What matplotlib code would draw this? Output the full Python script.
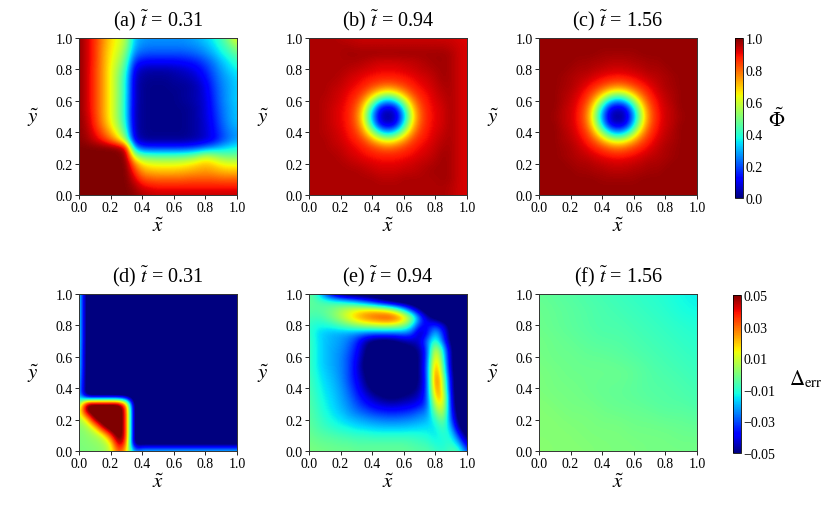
import numpy as np
import matplotlib
matplotlib.use('Agg')
import matplotlib.pyplot as plt

plt.rcParams['font.family'] = 'serif'
plt.rcParams['font.serif'] = ['Liberation Serif', 'DejaVu Serif']
plt.rcParams['mathtext.fontset'] = 'stix'

# ---------------- data ----------------
panel_letters = ['a', 'b', 'c', 'd', 'e', 'f']
panel_times = ['0.31', '0.94', '1.56', '0.31', '0.94', '1.56']
axis_ticks = [0.0, 0.2, 0.4, 0.6, 0.8, 1.0]
phi_ticks = [0.0, 0.2, 0.4, 0.6, 0.8, 1.0]
err_ticks = [-0.05, -0.03, -0.01, 0.01, 0.03, 0.05]

# Phi fields, percent, rows from y=1.0 (top) to y=0.0, columns x=0..1 step 0.05
phi_a = [
    [99, 93, 86, 77, 68, 63, 55, 32, 28, 27, 27, 27, 27, 27, 28, 30, 33, 37, 43, 52, 64],
    [99, 93, 86, 76, 67, 62, 53, 30, 26, 25, 25, 25, 25, 25, 26, 27, 30, 34, 40, 46, 55],
    [99, 93, 86, 75, 66, 60, 48, 25, 21, 20, 20, 20, 20, 20, 21, 23, 26, 30, 36, 41, 47],
    [99, 93, 86, 75, 65, 57, 44, 17, 13, 12, 12, 12, 12, 13, 14, 16, 20, 25, 31, 36, 41],
    [99, 93, 85, 75, 64, 54, 40, 10, 5, 4, 4, 4, 5, 6, 8, 11, 16, 22, 28, 33, 37],
    [99, 93, 85, 75, 64, 52, 37, 7, 3, 2, 2, 2, 3, 4, 5, 8, 13, 20, 26, 30, 34],
    [99, 93, 85, 75, 64, 52, 36, 6, 2, 1, 1, 1, 2, 2, 3, 5, 10, 18, 25, 29, 33],
    [99, 93, 85, 75, 64, 52, 36, 6, 2, 1, 1, 1, 1, 2, 3, 5, 9, 17, 24, 29, 33],
    [99, 93, 85, 75, 64, 52, 35, 6, 2, 1, 1, 1, 1, 2, 3, 5, 8, 16, 24, 29, 33],
    [99, 93, 85, 75, 64, 52, 35, 5, 2, 1, 1, 1, 1, 1, 2, 4, 8, 15, 23, 28, 32],
    [99, 94, 86, 75, 64, 52, 35, 5, 2, 1, 1, 1, 1, 1, 2, 4, 8, 14, 22, 28, 32],
    [99, 95, 87, 77, 66, 54, 37, 5, 2, 1, 1, 1, 1, 1, 2, 4, 7, 13, 21, 27, 31],
    [99, 96, 90, 82, 72, 60, 42, 6, 2, 1, 1, 1, 1, 1, 2, 4, 7, 12, 19, 25, 28],
    [99, 97, 93, 88, 80, 70, 52, 9, 3, 2, 2, 2, 2, 2, 3, 4, 7, 11, 18, 24, 28],
    [100, 100, 100, 100, 100, 99, 92, 30, 18, 17, 17, 17, 17, 17, 18, 20, 24, 28, 32, 35, 38],
    [100, 100, 100, 100, 100, 100, 98, 58, 48, 46, 45, 45, 45, 46, 48, 52, 58, 55, 50, 48, 48],
    [100, 100, 100, 100, 100, 100, 100, 78, 66, 63, 62, 62, 62, 63, 65, 68, 70, 68, 64, 62, 62],
    [100, 100, 100, 100, 100, 100, 100, 87, 75, 72, 71, 71, 71, 72, 73, 74, 75, 74, 72, 71, 71],
    [100, 100, 100, 100, 100, 100, 100, 93, 84, 82, 81, 81, 81, 81, 82, 82, 82, 82, 81, 81, 81],
    [100, 100, 100, 100, 100, 100, 100, 97, 92, 90, 89, 89, 89, 89, 89, 89, 89, 89, 89, 89, 89],
    [100, 100, 100, 100, 100, 100, 100, 99, 96, 95, 94, 94, 94, 94, 94, 94, 94, 94, 94, 94, 94],
]

phi_b = [
    [96, 96, 96, 96, 95, 94, 94, 93, 93, 93, 93, 93, 93, 93, 93, 93, 93, 93, 93, 92, 91],
    [96, 96, 96, 96, 96, 96, 95, 95, 95, 95, 95, 95, 95, 95, 95, 95, 95, 95, 94, 93, 92],
    [96, 96, 96, 96, 96, 97, 97, 97, 97, 97, 97, 97, 97, 97, 97, 97, 97, 97, 96, 93, 92],
    [96, 96, 96, 96, 96, 96, 96, 95, 94, 93, 93, 93, 94, 94, 95, 96, 97, 97, 96, 93, 92],
    [96, 96, 96, 96, 96, 95, 94, 93, 92, 91, 91, 91, 92, 93, 94, 95, 96, 97, 96, 93, 92],
    [96, 96, 96, 96, 95, 93, 92, 90, 89, 88, 88, 88, 89, 90, 92, 93, 95, 97, 96, 93, 92],
    [96, 96, 96, 95, 94, 92, 90, 88, 85, 82, 80, 82, 85, 88, 90, 92, 94, 96, 96, 93, 92],
    [96, 96, 96, 94, 93, 90, 88, 83, 74, 65, 61, 65, 74, 83, 88, 90, 93, 95, 96, 93, 92],
    [96, 96, 95, 94, 92, 89, 85, 74, 56, 37, 28, 37, 56, 74, 85, 89, 92, 94, 96, 93, 92],
    [96, 96, 95, 93, 91, 88, 82, 65, 37, 10, 6, 10, 37, 65, 82, 88, 91, 93, 96, 93, 92],
    [96, 96, 95, 93, 91, 88, 80, 61, 28, 6, 2, 6, 28, 61, 80, 88, 91, 93, 96, 93, 92],
    [96, 96, 95, 93, 91, 88, 82, 65, 37, 10, 6, 10, 37, 65, 82, 88, 91, 93, 96, 93, 92],
    [96, 96, 95, 94, 92, 89, 85, 74, 56, 37, 28, 37, 56, 74, 85, 89, 92, 94, 96, 93, 92],
    [96, 96, 96, 94, 93, 90, 88, 83, 74, 65, 61, 65, 74, 83, 88, 90, 93, 95, 96, 93, 92],
    [96, 96, 96, 95, 94, 92, 90, 88, 85, 82, 80, 82, 85, 88, 90, 92, 94, 96, 96, 93, 92],
    [96, 96, 96, 96, 95, 93, 92, 90, 89, 88, 88, 88, 89, 90, 92, 93, 95, 97, 96, 93, 92],
    [96, 96, 96, 96, 96, 95, 94, 93, 92, 91, 91, 91, 92, 93, 94, 95, 96, 97, 96, 93, 92],
    [96, 96, 96, 96, 96, 96, 96, 95, 94, 93, 93, 93, 94, 94, 95, 96, 97, 97, 96, 93, 92],
    [96, 96, 96, 96, 96, 96, 96, 96, 96, 95, 95, 95, 96, 96, 96, 96, 96, 97, 96, 93, 92],
    [96, 96, 96, 96, 96, 96, 96, 96, 96, 96, 96, 96, 96, 96, 96, 96, 96, 96, 95, 93, 92],
    [96, 96, 96, 96, 96, 96, 96, 96, 96, 96, 96, 96, 96, 96, 96, 96, 96, 96, 95, 93, 92],
]

phi_c = [
    [98, 98, 98, 98, 98, 98, 98, 98, 98, 98, 98, 98, 98, 98, 98, 98, 98, 98, 98, 98, 98],
    [98, 98, 98, 98, 98, 98, 98, 98, 98, 98, 98, 98, 98, 98, 98, 98, 98, 98, 98, 98, 98],
    [98, 98, 98, 98, 98, 98, 98, 98, 97, 97, 97, 97, 97, 98, 98, 98, 98, 98, 98, 98, 98],
    [98, 98, 98, 98, 98, 97, 97, 96, 96, 95, 95, 95, 96, 96, 97, 97, 98, 98, 98, 98, 98],
    [98, 98, 98, 98, 97, 96, 96, 95, 94, 93, 93, 93, 94, 95, 96, 96, 97, 98, 98, 98, 98],
    [98, 98, 98, 97, 96, 95, 94, 92, 90, 89, 88, 89, 90, 92, 94, 95, 96, 97, 98, 98, 98],
    [98, 98, 98, 97, 96, 94, 91, 88, 85, 81, 79, 81, 85, 88, 91, 94, 96, 97, 98, 98, 98],
    [98, 98, 98, 96, 95, 92, 88, 82, 72, 62, 58, 62, 72, 82, 88, 92, 95, 96, 98, 98, 98],
    [98, 98, 98, 96, 94, 90, 85, 72, 53, 34, 26, 34, 53, 72, 85, 90, 94, 96, 98, 98, 98],
    [98, 98, 98, 95, 93, 89, 81, 62, 34, 9, 5, 9, 34, 62, 81, 89, 93, 95, 98, 98, 98],
    [98, 98, 97, 95, 93, 88, 79, 58, 26, 5, 2, 5, 26, 58, 79, 88, 93, 95, 97, 98, 98],
    [98, 98, 98, 95, 93, 89, 81, 62, 34, 9, 5, 9, 34, 62, 81, 89, 93, 95, 98, 98, 98],
    [98, 98, 98, 96, 94, 90, 85, 72, 53, 34, 26, 34, 53, 72, 85, 90, 94, 96, 98, 98, 98],
    [98, 98, 98, 96, 95, 92, 88, 82, 72, 62, 58, 62, 72, 82, 88, 92, 95, 96, 98, 98, 98],
    [98, 98, 98, 97, 96, 94, 91, 88, 85, 81, 79, 81, 85, 88, 91, 94, 96, 97, 98, 98, 98],
    [98, 98, 98, 97, 96, 95, 94, 92, 90, 89, 88, 89, 90, 92, 94, 95, 96, 97, 98, 98, 98],
    [98, 98, 98, 98, 97, 96, 96, 95, 94, 93, 93, 93, 94, 95, 96, 96, 97, 98, 98, 98, 98],
    [98, 98, 98, 98, 98, 97, 97, 96, 96, 95, 95, 95, 96, 96, 97, 97, 98, 98, 98, 98, 98],
    [98, 98, 98, 98, 98, 98, 98, 98, 97, 97, 97, 97, 97, 98, 98, 98, 98, 98, 98, 98, 98],
    [98, 98, 98, 98, 98, 98, 98, 98, 98, 98, 98, 98, 98, 98, 98, 98, 98, 98, 98, 98, 98],
    [98, 98, 98, 98, 98, 98, 98, 98, 98, 98, 98, 98, 98, 98, 98, 98, 98, 98, 98, 98, 98],
]

# error fields, thousandths, rows from y=1.0 (top) to y=0.0
err_d = [
    [-8] + [-60] * 20,
    [-8] + [-60] * 20,
    [-8] + [-60] * 20,
    [-8] + [-60] * 20,
    [-8] + [-60] * 20,
    [-8] + [-60] * 20,
    [-8] + [-60] * 20,
    [-9] + [-60] * 20,
    [-10] + [-60] * 20,
    [-10] + [-60] * 20,
    [-12] + [-60] * 20,
    [-14] + [-60] * 20,
    [-16] + [-60] * 20,
    [-16] + [-60] * 20,
    [-5, 60, 60, 60, 60, 60, 30] + [-60] * 14,
    [10, 50, 60, 60, 60, 60, 40] + [-60] * 14,
    [3, 15, 50, 60, 60, 60, 40] + [-60] * 14,
    [1, 4, 15, 45, 60, 60, 40] + [-60] * 14,
    [0, 2, 4, 10, 35, 60, 40] + [-60] * 14,
    [0, 1, 2, 4, 12, 50, 35] + [-60] * 14,
    [0, 0, 1, 2, 8, 35, 20, -25] + [-15] * 13,
]

err_e = [
    [-3, -10, -30, -45, -55, -60, -60, -60, -60, -60, -60, -60, -60, -60, -60, -60, -60, -60, -60, -60, -60],
    [-3, -5, -6, -8, -10, -14, -20, -28, -36, -45, -52, -58, -60, -60, -60, -60, -60, -60, -60, -60, -60],
    [-4, -5, -3, 0, 5, 10, 14, 17, 18, 16, 12, 2, -15, -35, -50, -60, -60, -60, -60, -60, -60],
    [-6, -8, -5, 0, 6, 14, 22, 28, 32, 35, 37, 34, 24, 5, -25, -45, -55, -60, -60, -60, -60],
    [-9, -12, -12, -10, -6, -2, 2, 6, 8, 10, 10, 8, 2, -12, -35, -38, -32, -42, -55, -60, -60],
    [-8, -15, -18, -20, -21, -22, -24, -26, -28, -28, -28, -28, -26, -30, -48, -38, -15, -35, -55, -60, -60],
    [-7, -14, -18, -20, -22, -26, -33, -45, -52, -55, -55, -52, -48, -45, -42, -25, -5, -30, -55, -60, -60],
    [-7, -14, -18, -21, -23, -28, -36, -48, -55, -58, -58, -56, -54, -52, -48, -30, 15, -15, -50, -60, -60],
    [-7, -14, -18, -21, -24, -30, -38, -50, -58, -60, -60, -58, -56, -54, -50, -30, 24, -10, -50, -60, -60],
    [-7, -14, -18, -21, -24, -30, -40, -52, -58, -60, -60, -60, -57, -54, -50, -28, 31, -5, -50, -60, -60],
    [-7, -13, -17, -20, -24, -30, -40, -50, -57, -60, -60, -60, -57, -54, -50, -28, 36, 0, -48, -60, -60],
    [-6, -12, -16, -19, -23, -30, -38, -48, -55, -58, -60, -58, -56, -54, -50, -30, 38, 8, -45, -60, -60],
    [-6, -11, -15, -18, -22, -28, -36, -45, -52, -55, -57, -56, -54, -52, -48, -30, 33, 12, -45, -60, -60],
    [-5, -10, -14, -17, -21, -26, -33, -40, -46, -50, -52, -52, -50, -48, -44, -30, 24, 20, -42, -60, -60],
    [-5, -9, -13, -16, -20, -24, -30, -35, -40, -43, -45, -45, -43, -42, -38, -30, 12, 18, -40, -60, -60],
    [-4, -8, -12, -15, -18, -22, -26, -29, -32, -34, -35, -35, -34, -32, -28, -25, 0, 12, -35, -58, -60],
    [-4, -7, -10, -13, -15, -18, -20, -22, -24, -25, -26, -26, -25, -24, -22, -20, -10, 3, -30, -55, -60],
    [-3, -6, -8, -10, -12, -13, -15, -16, -17, -18, -18, -18, -18, -17, -16, -15, -15, -5, -20, -50, -60],
    [-2, -4, -5, -6, -7, -8, -9, -9, -10, -10, -10, -10, -10, -10, -11, -12, -15, -10, -12, -35, -55],
    [-1, -2, -3, -3, -4, -4, -5, -5, -5, -5, -5, -5, -5, -6, -7, -8, -12, -12, -8, -20, -45],
    [0, -1, -1, -2, -2, -2, -3, -3, -3, -3, -3, -3, -3, -4, -5, -5, -8, -10, -6, -5, -30],
]

# rows y=1.0..0.0, columns x=0..1 step 0.1
err_f = [
    [-3, -4, -5, -6, -7, -8, -9, -10, -11, -13, -14],
    [-2, -3, -4, -5, -6, -7, -8, -9, -10, -12, -13],
    [-2, -3, -4, -5, -6, -6, -7, -8, -9, -10, -11],
    [-1, -2, -3, -4, -5, -5, -6, -7, -8, -9, -10],
    [-1, -2, -2, -3, -3, -4, -5, -6, -7, -8, -9],
    [0, -1, -2, -2, -2, -2, -3, -5, -6, -7, -8],
    [0, -1, -1, -2, -3, -3, -4, -5, -5, -6, -7],
    [1, 0, -1, -1, -2, -3, -3, -4, -5, -5, -6],
    [1, 1, 0, 0, -1, -1, -2, -2, -3, -3, -4],
    [1, 1, 1, 0, 0, 0, -1, -1, -1, -2, -2],
    [2, 1, 1, 1, 0, 0, 0, -1, -1, -1, -1],
]

fields = [np.array(phi_a) / 100.0, np.array(phi_b) / 100.0, np.array(phi_c) / 100.0,
          np.array(err_d) / 1000.0, np.array(err_e) / 1000.0, np.array(err_f) / 1000.0]

# ---------------- figure ----------------
W, H = 830, 510
fig = plt.figure(figsize=(W / 100, H / 100), dpi=100)


def px_axes(left, top, w, h):
    return fig.add_axes([left / W, 1 - (top + h) / H, w / W, h / H])


lefts = [79, 309, 539]
tops = [39, 295]
AW, AH = 158, 157
images = []
for k in range(6):
    r, c = divmod(k, 3)
    ax = px_axes(lefts[c], tops[r], AW, AH)
    data = fields[k]
    n = data.shape[0]
    h = 0.5 / (n - 1)
    if r == 0:
        vmin, vmax = 0.0, 1.0
    else:
        vmin, vmax = -0.05, 0.05
    im = ax.imshow(data, cmap='jet', vmin=vmin, vmax=vmax, origin='upper',
                   extent=[-h, 1 + h, -h, 1 + h], interpolation='bicubic', aspect='auto')
    images.append(im)
    ax.set_xlim(0, 1)
    ax.set_ylim(0, 1)
    ax.set_xticks(axis_ticks)
    ax.set_yticks(axis_ticks)
    ax.set_xticklabels([f'{t:.1f}' for t in axis_ticks])
    ax.set_yticklabels([f'{t:.1f}' for t in axis_ticks])
    ax.tick_params(labelsize=10, direction='out', length=3, width=0.6, pad=1.5)
    for s in ax.spines.values():
        s.set_linewidth(0.7)
        s.set_color('#333333')
    ax.set_title(rf'({panel_letters[k]}) $\tilde{{t}}$ = {panel_times[k]}', fontsize=14.5, pad=9)
    ax.set_xlabel(r'$\tilde{x}$', fontsize=15)
    ax.set_ylabel(r'$\tilde{y}$', fontsize=15, rotation=0)
    ax.xaxis.label.set_va('center')
    ax.yaxis.label.set_va('center')
    ax.xaxis.set_label_coords(0.5, -0.2)
    ax.yaxis.set_label_coords(-0.29, 0.5)

cax1 = px_axes(735, 39, 8, 160)
cb1 = fig.colorbar(images[0], cax=cax1, ticks=phi_ticks)
cb1.ax.set_yticklabels([f'{t:.1f}' for t in phi_ticks])
cax2 = px_axes(733, 296, 8, 158)
cb2 = fig.colorbar(images[3], cax=cax2, ticks=err_ticks)
cb2.ax.set_yticklabels([f'{t:.2f}'.replace('-', '\u2212') for t in err_ticks])
for cb in (cb1, cb2):
    cb.outline.set_linewidth(0.6)
    cb.ax.tick_params(labelsize=10, length=0, pad=2)

fig.text(777 / W, 1 - 120 / H, r'$\tilde{\Phi}$', fontsize=15, ha='center', va='center')
fig.text(806 / W, 1 - 379 / H, r'$\Delta_{\mathrm{err}}$', fontsize=15, ha='center', va='center')

fig.savefig('out.png', dpi=100)
